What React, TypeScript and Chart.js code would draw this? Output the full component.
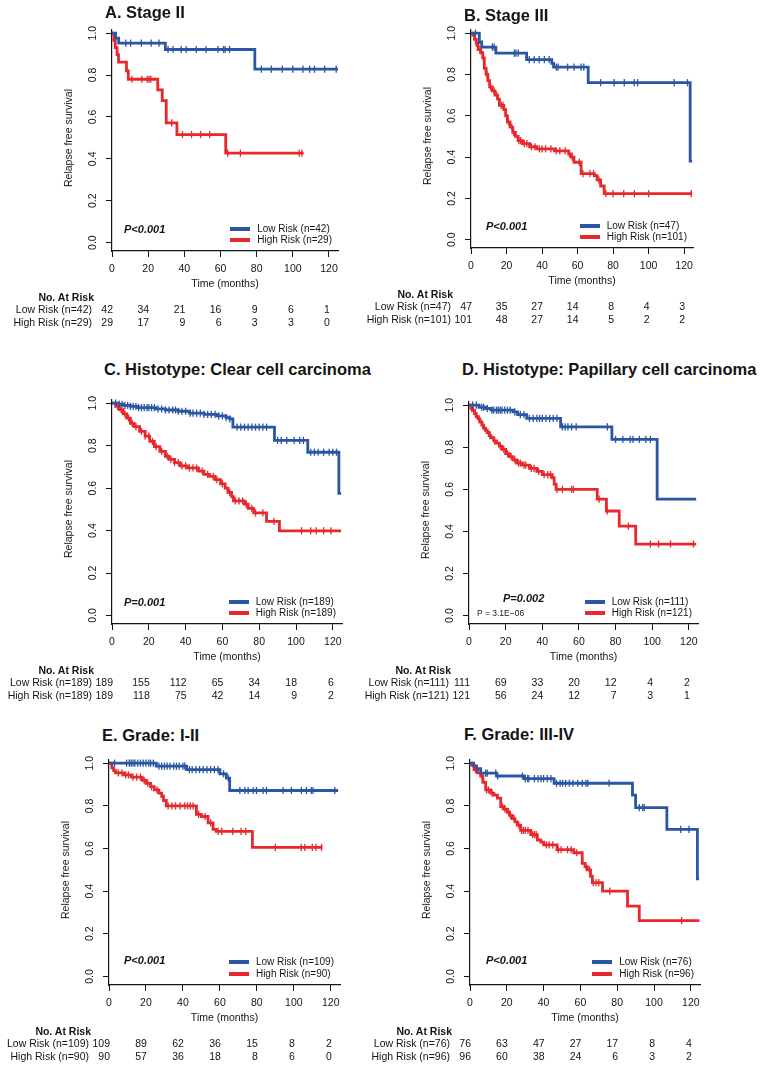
import React, { useEffect, useRef } from "react";
import { Chart, registerables } from "chart.js";

Chart.register(...registerables);

const FONT = '"Liberation Sans", Arial, Helvetica, sans-serif';
const BLUE = "#2A56A5";
const RED = "#E8282C";
const INK = "#141414";

type Step = [number, number];

const TIME_TICKS = [0, 20, 40, 60, 80, 100, 120];
const SURV_TICKS = [0, 0.2, 0.4, 0.6, 0.8, 1.0];
const X_MAX = 125;
const Y_MIN = -0.04;
const Y_MAX = 1.015;

// ---------- Panel A: Stage II ----------
const A_LOW: Step[] = [[0, 1], [2, 0.976], [3.7, 0.952], [29.5, 0.922], [79, 0.828], [125, 0.828]];
const A_LOW_CENSOR = [7.6, 10.3, 16.2, 21.7, 26, 31, 33.7, 38.3, 41, 46.6, 52, 58.6, 61.7, 62.5, 65, 82.6, 88.1, 94.2, 100, 105.6, 109.3, 112, 117.6, 124];
const A_HIGH: Step[] = [[0, 1], [1, 0.966], [1.8, 0.931], [2.8, 0.897], [3.6, 0.862], [8, 0.82], [9, 0.78], [25.3, 0.729], [27.8, 0.678], [30, 0.572], [35.9, 0.516], [62.9, 0.427], [106, 0.427]];
const A_HIGH_CENSOR = [11, 16.5, 19.5, 20.5, 21.5, 33, 39, 44, 49, 54, 64, 71, 103.5, 105];
const A_RISK_LOW = [42, 34, 21, 16, 9, 6, 1];
const A_RISK_HIGH = [29, 17, 9, 6, 3, 3, 0];

// ---------- Panel B: Stage III ----------
const B_LOW: Step[] = [[0, 1], [4.7, 0.957], [6, 0.932], [14, 0.903], [31.3, 0.872], [45.5, 0.853], [46.5, 0.835], [66, 0.76], [123.4, 0.38], [124.5, 0.38]];
const B_LOW_CENSOR = [2.5, 12, 13, 24.4, 25.3, 26.6, 32.8, 35.6, 38.4, 41.3, 44, 48, 49, 54.4, 58, 62, 63.5, 73, 80.6, 86.3, 91.9, 93.8, 114.4, 121.9];
const B_HIGH: Step[] = [[0, 1], [1, 0.99], [2, 0.97], [3, 0.95], [4, 0.92], [5.5, 0.905], [6.6, 0.88], [7.5, 0.83], [8.5, 0.8], [9.5, 0.77], [10.5, 0.74], [12, 0.72], [13.5, 0.7], [15, 0.68], [16, 0.65], [18.5, 0.63], [19.5, 0.6], [20.5, 0.57], [22, 0.545], [23.5, 0.52], [25, 0.5], [26.5, 0.48], [29, 0.465], [33, 0.45], [37, 0.44], [47, 0.43], [55, 0.415], [56.5, 0.4], [58, 0.375], [62, 0.32], [69.5, 0.31], [71, 0.29], [73, 0.26], [75, 0.223], [124.5, 0.223]];
const B_HIGH_CENSOR = [3, 5, 7, 9, 11, 13, 14.5, 17, 18, 21, 23, 24, 27, 28, 30, 31.5, 34, 36, 38.5, 40, 42, 45, 48, 50, 53, 55.5, 57, 61, 63, 67, 69, 72, 76, 80, 86, 92, 100, 124];
const B_RISK_LOW = [47, 35, 27, 14, 8, 4, 3];
const B_RISK_HIGH = [101, 48, 27, 14, 5, 2, 2];

// ---------- Panel C: Clear cell carcinoma ----------
const C_LOW: Step[] = [[0, 1], [3, 0.995], [6, 0.99], [10, 0.985], [14, 0.979], [24, 0.973], [29, 0.968], [36, 0.962], [42, 0.953], [50, 0.947], [57, 0.94], [62, 0.932], [64, 0.926], [65.7, 0.887], [88.3, 0.825], [106.4, 0.769], [123.3, 0.575], [124.5, 0.575]];
const C_LOW_CENSOR = [2, 4, 5.5, 7, 8.5, 10, 11.5, 13, 14.5, 16, 17.5, 19, 20, 21.5, 23, 25, 27, 29, 31, 33, 34.5, 36, 38, 40, 42.5, 44, 46, 48, 50, 52, 54, 56, 58, 60, 62, 64, 68, 70, 72, 74, 76, 78, 80, 82, 84, 90, 92, 95, 99, 102, 104, 108, 110, 112, 115, 118, 120, 122];
const C_HIGH: Step[] = [[0, 1], [2, 0.985], [4, 0.97], [6, 0.95], [8, 0.93], [10, 0.905], [12, 0.89], [15, 0.867], [18, 0.845], [20.5, 0.82], [23, 0.795], [26, 0.773], [29, 0.75], [31, 0.735], [34, 0.72], [37, 0.705], [41, 0.695], [47, 0.68], [50, 0.665], [53, 0.655], [56, 0.64], [59, 0.62], [61.5, 0.6], [63, 0.58], [65, 0.56], [66, 0.54], [72, 0.525], [74, 0.505], [77, 0.483], [84, 0.443], [91, 0.399], [124.5, 0.399]];
const C_HIGH_CENSOR = [3, 5, 7, 9, 11, 13, 16, 18, 20, 22, 24, 27, 30, 32, 34, 36, 38, 40, 42, 44, 46, 49, 52, 55, 57, 60, 64, 67, 69, 71, 73, 76, 78, 82, 88, 103, 108, 111, 115, 119];
const C_RISK_LOW = [189, 155, 112, 65, 34, 18, 6];
const C_RISK_HIGH = [189, 118, 75, 42, 14, 9, 2];

// ---------- Panel D: Papillary cell carcinoma ----------
const D_LOW: Step[] = [[0, 1], [5.5, 0.99], [9, 0.984], [12, 0.976], [24, 0.968], [26.5, 0.955], [31.5, 0.937], [50, 0.897], [78, 0.837], [102.7, 0.553], [124, 0.553]];
const D_LOW_CENSOR = [2, 4, 7, 8, 10, 12.5, 13.5, 15, 16, 17, 18, 19.5, 21, 22.5, 25, 28, 30, 33, 35, 37, 38.5, 40, 42, 44, 46, 48, 51, 52.5, 54, 56, 58.5, 75.5, 80, 84, 88, 89.5, 93, 96.5, 99];
const D_HIGH: Step[] = [[0, 1], [1, 0.985], [2, 0.975], [3, 0.96], [4, 0.945], [5, 0.935], [6, 0.92], [7, 0.905], [8, 0.89], [9, 0.88], [10, 0.87], [11, 0.855], [12, 0.845], [13.5, 0.83], [15, 0.82], [16.5, 0.805], [18, 0.79], [20, 0.77], [22, 0.755], [24, 0.74], [26, 0.725], [29, 0.715], [33, 0.7], [37, 0.685], [40, 0.67], [45.5, 0.655], [46.5, 0.625], [47.5, 0.6], [70, 0.553], [75, 0.497], [82, 0.425], [91, 0.34], [124, 0.34]];
const D_HIGH_CENSOR = [1.5, 3.5, 5.5, 7.5, 9.5, 11.5, 14, 17, 19, 21, 23, 25, 27, 28, 30, 31, 34, 35.5, 38, 41, 43, 44.5, 48, 51, 56, 57, 71, 75.5, 87, 99, 103.5, 110, 122.5];
const D_RISK_LOW = [111, 69, 33, 20, 12, 4, 2];
const D_RISK_HIGH = [121, 56, 24, 12, 7, 3, 1];

// ---------- Panel E: Grade I-II ----------
const E_LOW: Step[] = [[0, 1], [25.6, 0.986], [42, 0.97], [60, 0.95], [63.5, 0.93], [65.3, 0.872], [124, 0.872]];
const E_LOW_CENSOR = [3, 9.5, 11, 12, 13, 14, 15.5, 17, 18.5, 20, 21.5, 22.5, 24, 27, 28.5, 30, 31.5, 33, 35, 36.5, 38, 40, 41, 43.5, 45, 47, 49, 51, 53, 55, 57, 59, 62, 64.5, 70.8, 73.5, 75.3, 78, 79.8, 83.4, 85.2, 94.2, 98.7, 104.1, 106.8, 109.5, 110.4, 122.2];
const E_HIGH: Step[] = [[0, 1], [1.5, 0.978], [2.5, 0.965], [3.5, 0.955], [8, 0.945], [12, 0.935], [18, 0.92], [20, 0.905], [22.5, 0.89], [24.5, 0.875], [27, 0.86], [28.5, 0.845], [29.5, 0.825], [31, 0.8], [47.3, 0.76], [50, 0.75], [53.6, 0.72], [56.3, 0.69], [58, 0.68], [77.6, 0.605], [115.5, 0.605]];
const E_HIGH_CENSOR = [5, 7, 9, 10.5, 13, 15, 17, 19, 21, 23, 26, 32, 34, 36, 38.5, 41, 42.5, 44, 45.5, 48.5, 52, 55, 59, 61, 67, 71.5, 74, 90, 104, 106, 110, 112, 115];
const E_RISK_LOW = [109, 89, 62, 36, 15, 8, 2];
const E_RISK_HIGH = [90, 57, 36, 18, 8, 6, 0];

// ---------- Panel F: Grade III-IV ----------
const F_LOW: Step[] = [[0, 1], [2, 0.987], [3.5, 0.974], [5.8, 0.953], [14.5, 0.94], [29.5, 0.928], [45.7, 0.906], [88.3, 0.85], [90, 0.792], [107, 0.69], [123.6, 0.458], [124.5, 0.458]];
const F_LOW_CENSOR = [4, 8.5, 9.4, 14, 15, 28.5, 30, 31.3, 32, 35, 37, 38.6, 40, 42, 44, 47, 49, 50.4, 52, 54, 56, 58.5, 61, 63, 64, 75.6, 92, 93.8, 94.7, 114.5, 119];
const F_HIGH: Step[] = [[0, 1], [1, 0.99], [2.2, 0.97], [4, 0.955], [5.8, 0.94], [7, 0.91], [8.5, 0.875], [11.2, 0.86], [13, 0.85], [14.9, 0.836], [16.7, 0.797], [18.5, 0.785], [20.3, 0.77], [21.5, 0.755], [23, 0.74], [24.5, 0.725], [25.7, 0.71], [27.5, 0.685], [33, 0.665], [36.6, 0.64], [38.5, 0.63], [40, 0.617], [47.3, 0.595], [56.4, 0.58], [61, 0.53], [62.5, 0.515], [63.8, 0.5], [65.5, 0.47], [66.5, 0.44], [72, 0.4], [85.6, 0.33], [92, 0.262], [124.7, 0.262]];
const F_HIGH_CENSOR = [3, 6.5, 9, 10, 12, 17.5, 19, 21, 22, 24, 26.5, 28, 29, 30, 31.5, 34, 35, 36, 41.5, 43, 45, 48, 49.5, 53, 55, 58, 63, 65, 67, 68.5, 70, 76, 115];
const F_RISK_LOW = [76, 63, 47, 27, 17, 8, 4];
const F_RISK_HIGH = [96, 60, 38, 24, 6, 3, 2];

interface PanelSpec {
  title: string;
  x0: number; top: number; w: number; h: number;
  titleX: number; titleY: number;
  low: Step[]; lowCensor: number[]; high: Step[]; highCensor: number[];
  lowLabel: string; highLabel: string;
  riskLow: number[]; riskHigh: number[];
  pText: string; pDx: number; pDy: number; extraP?: string;
}

const PANELS: PanelSpec[] = [
  { title: "A. Stage II", x0: 112, top: 30, w: 226, h: 221, titleX: 105, titleY: 12,
    low: A_LOW, lowCensor: A_LOW_CENSOR, high: A_HIGH, highCensor: A_HIGH_CENSOR,
    lowLabel: "Low Risk (n=42)", highLabel: "High Risk (n=29)", riskLow: A_RISK_LOW, riskHigh: A_RISK_HIGH,
    pText: "P<0.001", pDx: 12, pDy: -14 },
  { title: "B. Stage III", x0: 471, top: 30, w: 222, h: 218, titleX: 464, titleY: 15,
    low: B_LOW, lowCensor: B_LOW_CENSOR, high: B_HIGH, highCensor: B_HIGH_CENSOR,
    lowLabel: "Low Risk (n=47)", highLabel: "High Risk (n=101)", riskLow: B_RISK_LOW, riskHigh: B_RISK_HIGH,
    pText: "P<0.001", pDx: 15, pDy: -14 },
  { title: "C. Histotype: Clear cell carcinoma", x0: 112, top: 400, w: 230, h: 224, titleX: 104, titleY: 369,
    low: C_LOW, lowCensor: C_LOW_CENSOR, high: C_HIGH, highCensor: C_HIGH_CENSOR,
    lowLabel: "Low Risk (n=189)", highLabel: "High Risk (n=189)", riskLow: C_RISK_LOW, riskHigh: C_RISK_HIGH,
    pText: "P=0.001", pDx: 12, pDy: -14 },
  { title: "D. Histotype: Papillary cell carcinoma", x0: 469, top: 402, w: 229, h: 222, titleX: 462, titleY: 369,
    low: D_LOW, lowCensor: D_LOW_CENSOR, high: D_HIGH, highCensor: D_HIGH_CENSOR,
    lowLabel: "Low Risk (n=111)", highLabel: "High Risk (n=121)", riskLow: D_RISK_LOW, riskHigh: D_RISK_HIGH,
    pText: "P=0.002", pDx: 34, pDy: -18, extraP: "P = 3.1E\u221206" },
  { title: "E. Grade: I-II", x0: 109, top: 760, w: 231, h: 225, titleX: 102, titleY: 735,
    low: E_LOW, lowCensor: E_LOW_CENSOR, high: E_HIGH, highCensor: E_HIGH_CENSOR,
    lowLabel: "Low Risk (n=109)", highLabel: "High Risk (n=90)", riskLow: E_RISK_LOW, riskHigh: E_RISK_HIGH,
    pText: "P<0.001", pDx: 15, pDy: -16 },
  { title: "F. Grade: III-IV", x0: 470, top: 760, w: 230, h: 225, titleX: 464, titleY: 734,
    low: F_LOW, lowCensor: F_LOW_CENSOR, high: F_HIGH, highCensor: F_HIGH_CENSOR,
    lowLabel: "Low Risk (n=76)", highLabel: "High Risk (n=96)", riskLow: F_RISK_LOW, riskHigh: F_RISK_HIGH,
    pText: "P<0.001", pDx: 16, pDy: -16 },
];

const X_SCALE_H = 30;
const PAD = { l: 40, t: 12, r: 16, b: 4 };

function survAt(steps: Step[], t: number): number {
  let s = steps[0][1];
  for (const [tt, ss] of steps) {
    if (tt <= t) s = ss;
    else break;
  }
  return s;
}

const yLabelPlugin = {
  id: "yRotLabels",
  afterDraw(chart: any) {
    const ys = chart.scales.y;
    const ctx = chart.ctx;
    ctx.save();
    ctx.font = `10.5px ${FONT}`;
    ctx.fillStyle = INK;
    ctx.textAlign = "center";
    ctx.textBaseline = "middle";
    ys.ticks.forEach((tk: any) => {
      const y = ys.getPixelForValue(tk.value);
      ctx.save();
      ctx.translate(chart.chartArea.left - 19, y);
      ctx.rotate(-Math.PI / 2);
      ctx.fillText(Number(tk.value).toFixed(1), 0, 0);
      ctx.restore();
    });
    ctx.restore();
  },
};

function Txt(props: { x: number; y: number; align?: "left" | "right" | "center"; size?: number; bold?: boolean; italic?: boolean; children: React.ReactNode }) {
  const { x, y, align = "left", size = 10.5, bold, italic, children } = props;
  const tx = align === "left" ? "0" : align === "right" ? "-100%" : "-50%";
  return (
    <div
      style={{
        position: "absolute", left: x, top: y, transform: `translate(${tx}, -50%)`,
        fontFamily: FONT, fontSize: size, fontWeight: bold ? "bold" : "normal",
        fontStyle: italic ? "italic" : "normal", color: INK, whiteSpace: "nowrap", lineHeight: 1.15,
      }}
    >
      {children}
    </div>
  );
}

function Panel({ s }: { s: PanelSpec }) {
  const ref = useRef<HTMLCanvasElement>(null);
  const cw = s.w + PAD.l + PAD.r;
  const ch = s.h + PAD.t + PAD.b + X_SCALE_H;

  useEffect(() => {
    const line = (steps: Step[], color: string) => ({
      data: steps.map(([x, y]) => ({ x, y })),
      borderColor: color, borderWidth: 2.8, pointRadius: 0, stepped: "before" as const,
      fill: false, clip: false as const, borderJoinStyle: "miter" as const,
    });
    const censor = (times: number[], steps: Step[], color: string) => ({
      data: times.map((t) => ({ x: t, y: survAt(steps, t) })),
      showLine: false, pointStyle: "line" as const, pointRotation: 90, pointRadius: 3.6,
      pointBorderWidth: 1.3, borderColor: color, backgroundColor: color, clip: false as const,
    });
    const axisCommon = {
      type: "linear" as const,
      grid: { drawOnChartArea: false, drawTicks: true, tickLength: 6, color: INK, lineWidth: 1 },
      border: { display: true, color: INK, width: 1.2 },
    };
    const chart = new Chart(ref.current!, {
      type: "line",
      data: {
        datasets: [
          censor(s.lowCensor, s.low, BLUE) as any,
          censor(s.highCensor, s.high, RED) as any,
          line(s.low, BLUE) as any,
          line(s.high, RED) as any,
        ],
      },
      options: {
        animation: false,
        responsive: false,
        maintainAspectRatio: false,
        devicePixelRatio: 1,
        layout: { padding: { left: PAD.l, top: PAD.t, right: PAD.r, bottom: PAD.b } },
        plugins: { legend: { display: false }, tooltip: { enabled: false } },
        scales: {
          x: {
            ...axisCommon,
            min: 0, max: X_MAX,
            afterBuildTicks: (sc: any) => { sc.ticks = TIME_TICKS.map((v) => ({ value: v })); },
            afterFit: (sc: any) => { sc.height = X_SCALE_H; },
            ticks: { font: { family: FONT, size: 10.5 }, color: INK, padding: 6, maxRotation: 0, autoSkip: false },
          },
          y: {
            ...axisCommon,
            min: Y_MIN, max: Y_MAX,
            afterBuildTicks: (sc: any) => { sc.ticks = SURV_TICKS.map((v) => ({ value: v })); },
            afterFit: (sc: any) => { sc.width = 0; },
            ticks: { display: false },
          },
        },
      } as any,
      plugins: [yLabelPlugin],
    });
    return () => chart.destroy();
  }, [s]);

  const xp = (t: number) => s.x0 + (t / X_MAX) * s.w;
  const yp = (v: number) => s.top + ((Y_MAX - v) / (Y_MAX - Y_MIN)) * s.h;
  const axisY = s.top + s.h;
  const y0 = yp(0);
  const right = s.x0 + s.w;

  return (
    <>
      <canvas
        ref={ref}
        width={cw}
        height={ch}
        style={{ position: "absolute", left: s.x0 - PAD.l, top: s.top - PAD.t, width: cw, height: ch }}
      />
      <Txt x={s.titleX} y={s.titleY} size={16.5} bold>{s.title}</Txt>
      <div
        style={{
          position: "absolute", left: s.x0 - 44, top: yp(0.5),
          transform: "translate(-50%, -50%) rotate(-90deg)", fontFamily: FONT, fontSize: 10.5,
          color: INK, whiteSpace: "nowrap", lineHeight: 1.15,
        }}
      >
        Relapse free survival
      </div>
      <Txt x={(s.x0 + right) / 2} y={axisY + 32} align="center">Time (months)</Txt>
      <Txt x={s.x0 + s.pDx} y={y0 + s.pDy} size={11} bold italic>{s.pText}</Txt>
      {s.extraP && <Txt x={s.x0 + 8} y={y0 - 1.5} size={8.5}>{s.extraP}</Txt>}
      <div style={{ position: "absolute", right: 762 - (right - 6), top: y0 - 14 - 5.75 }}>
        {[{ c: BLUE, l: s.lowLabel }, { c: RED, l: s.highLabel }].map((r) => (
          <div key={r.l} style={{ display: "flex", alignItems: "center", height: 11.5 }}>
            <span style={{ display: "inline-block", width: 20, height: 4, background: r.c, marginRight: 7 }} />
            <span style={{ fontFamily: FONT, fontSize: 10, color: INK, whiteSpace: "nowrap", lineHeight: 1 }}>{r.l}</span>
          </div>
        ))}
      </div>
      <Txt x={s.x0 - 18} y={axisY + 45.5} align="right" bold>No. At Risk</Txt>
      <Txt x={s.x0 - 20} y={axisY + 58} align="right">{s.lowLabel}</Txt>
      <Txt x={s.x0 - 20} y={axisY + 70.5} align="right">{s.highLabel}</Txt>
      {TIME_TICKS.map((t, i) => (
        <React.Fragment key={t}>
          <Txt x={xp(t) + 1} y={axisY + 58} align="right">{s.riskLow[i]}</Txt>
          <Txt x={xp(t) + 1} y={axisY + 70.5} align="right">{s.riskHigh[i]}</Txt>
        </React.Fragment>
      ))}
    </>
  );
}

export default function App() {
  return (
    <div style={{ position: "absolute", left: 0, top: 0, width: 762, height: 1067, background: "#fff", overflow: "hidden" }}>
      {PANELS.map((p) => (
        <Panel key={p.title} s={p} />
      ))}
    </div>
  );
}
